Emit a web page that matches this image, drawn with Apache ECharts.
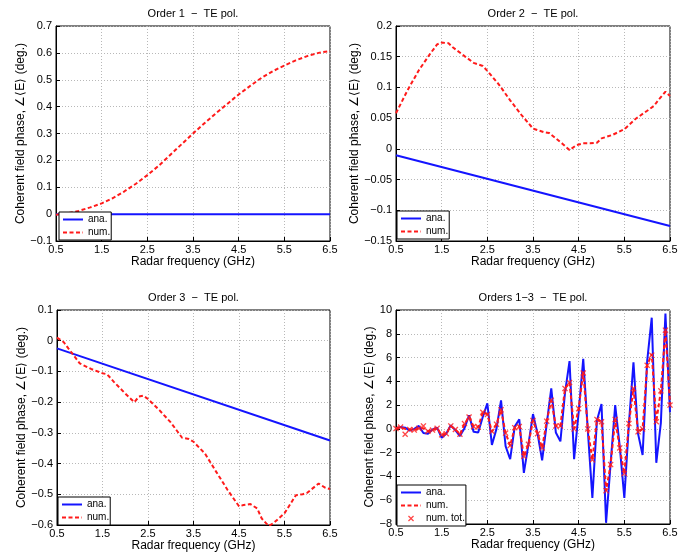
<!DOCTYPE html>
<html><head><meta charset="utf-8">
<script src="https://cdn.jsdelivr.net/npm/echarts@6/dist/echarts.min.js"></script>
<style>html,body{margin:0;padding:0;background:#fff}#c{width:699px;height:555px}</style>
</head><body><div id="c"></div>
<script>
const FONT = '"Liberation Sans", Arial, Helvetica, sans-serif';

// ---------- data ----------
const xTicks = [0.5, 1.5, 2.5, 3.5, 4.5, 5.5, 6.5];
const titles = ['Order 1  \u2212  TE pol.', 'Order 2  \u2212  TE pol.', 'Order 3  \u2212  TE pol.', 'Orders 1\u22123  \u2212  TE pol.'];
const seriesNames = ['ana.', 'num.', 'num. tot.'];

// Order 1
const p1AnaFreq = [0.5, 6.5];
const p1Ana = [0, 0];
const p1NumFreq = [0.5,0.75,1.0,1.25,1.5,1.75,2.0,2.25,2.5,2.75,3.0,3.25,3.5,3.75,4.0,4.25,4.5,4.75,5.0,5.25,5.5,5.75,6.0,6.25,6.5];
const p1Num = [-0.002,0.003,0.012,0.025,0.04,0.06,0.085,0.113,0.145,0.18,0.22,0.26,0.30,0.338,0.375,0.41,0.445,0.477,0.507,0.532,0.553,0.572,0.588,0.6,0.607];

// Order 2
const p2AnaFreq = [0.5, 6.5];
const p2Ana = [-0.0103, -0.1255];
const p2NumFreq = [0.5,0.75,1.0,1.25,1.4,1.5,1.65,1.75,2.0,2.2,2.4,2.5,2.75,3.0,3.25,3.5,3.75,3.85,4.0,4.15,4.3,4.45,4.6,4.75,4.9,5.0,5.25,5.5,5.75,6.0,6.15,6.25,6.4,6.5];
const p2Num = [0.058,0.095,0.128,0.155,0.17,0.173,0.172,0.165,0.151,0.14,0.135,0.127,0.105,0.079,0.055,0.033,0.027,0.026,0.017,0.008,-0.002,0.006,0.009,0.009,0.01,0.017,0.023,0.032,0.049,0.062,0.07,0.08,0.093,0.086];

// Order 3
const p3AnaFreq = [0.5, 6.5];
const p3Ana = [-0.025, -0.325];
const p3NumFreq = [0.5,0.65,0.75,1.0,1.25,1.5,1.6,1.75,2.0,2.2,2.3,2.4,2.5,2.75,3.0,3.25,3.4,3.5,3.75,4.0,4.25,4.5,4.6,4.75,4.9,5.0,5.15,5.25,5.5,5.75,5.9,6.0,6.25,6.4,6.5];
const p3Num = [0.01,-0.005,-0.025,-0.074,-0.092,-0.106,-0.109,-0.134,-0.172,-0.2,-0.182,-0.179,-0.19,-0.226,-0.266,-0.316,-0.32,-0.329,-0.367,-0.427,-0.486,-0.539,-0.535,-0.532,-0.546,-0.579,-0.603,-0.595,-0.562,-0.503,-0.5,-0.495,-0.465,-0.479,-0.483];

// Orders 1-3
const p4Freq = [0.5,0.6,0.7,0.8,0.9,1.0,1.1,1.2,1.3,1.4,1.5,1.6,1.7,1.8,1.9,2.0,2.1,2.2,2.3,2.4,2.5,2.6,2.7,2.8,2.9,3.0,3.1,3.2,3.3,3.4,3.5,3.6,3.7,3.8,3.9,4.0,4.1,4.2,4.3,4.4,4.5,4.6,4.7,4.8,4.9,5.0,5.1,5.2,5.3,5.4,5.5,5.6,5.7,5.8,5.9,6.0,6.1,6.2,6.3,6.4,6.5];
const p4Ana = [0.05,0.15,0.1,-0.15,0.0,0.25,-0.35,-0.4,-0.05,0.1,-0.75,-0.4,0.3,-0.1,-0.6,0.05,1.15,-0.25,-0.3,1.0,2.15,-1.35,0.0,2.4,-1.45,-2.55,0.2,0.8,-3.7,-1.3,1.25,-0.4,-2.65,0.4,3.4,-0.3,-1.05,3.0,5.7,-2.55,1.4,5.9,-0.1,-5.8,0.7,2.1,-7.9,-2.9,2.0,-1.5,-5.8,0.4,5.6,-0.4,-2.2,5.7,9.35,-2.85,0.5,9.7,1.4];
const p4Num = [0.03,0.15,0.0,-0.05,-0.1,0.05,0.05,-0.2,-0.1,0.05,-0.5,-0.4,0.25,-0.05,-0.45,0.45,1.0,0.2,0.15,1.4,1.25,-0.25,0.4,1.6,-0.35,-1.4,0.1,0.2,-2.3,-1.3,0.7,-0.4,-1.6,0.65,2.4,0.25,0.25,3.4,3.9,0.0,1.7,4.8,0.0,-2.6,0.8,0.6,-5.2,-3.0,0.8,-1.65,-3.75,0.45,3.4,-0.25,0.0,5.35,6.3,0.6,3.2,8.3,2.1];
const p4NumTot = [0.03,0.15,-0.45,-0.05,-0.1,0.05,0.25,-0.2,-0.1,0.05,-0.5,-0.4,0.25,-0.05,-0.45,0.45,1.0,0.2,0.15,1.4,1.2,-0.2,0.4,1.6,-0.35,-1.4,0.1,0.2,-2.3,-1.3,0.7,-0.4,-1.6,0.65,2.4,0.25,0.25,3.4,3.9,0.0,1.7,4.7,0.0,-2.6,0.8,0.6,-5.2,-3.0,0.8,-1.6,-3.75,0.45,3.4,-0.25,0.0,5.35,6.2,0.6,3.2,8.3,2.0];

// y-axis ranges: [min, max, interval]
const yRanges = [[-0.1, 0.7, 0.1], [-0.15, 0.2, 0.05], [-0.6, 0.1, 0.1], [-8, 10, 2]];

// ---------- layout ----------
const grids = [
  {left: 56, top: 26, width: 274, height: 215},
  {left: 396, top: 26, width: 274, height: 215},
  {left: 57, top: 310, width: 273, height: 215},
  {left: 396, top: 310, width: 274, height: 214}
];
const yNameGaps = [25, 31, 25, 17];
const legendPos = [[59, 212], [397, 211], [58, 497], [397, 485]];

const BLUE = '#1414ff';
const RED = '#ff1a1a';

function pairs(xs, ys) { return xs.map((x, i) => [x, ys[i]]); }
function fmt(v) {
  const r = parseFloat(Number(v).toFixed(4));
  if (r === 0) return '0';
  return r < 0 ? '\u2212' + String(-r) : String(r);
}

const gridOpts = grids.map(g => Object.assign({show: true, borderColor: '#000', borderWidth: 1, backgroundColor: '#fff'}, g));

const xAxes = grids.map((g, i) => ({
  type: 'value', gridIndex: i, min: 0.5, max: 6.5, interval: 1,
  name: 'Radar frequency (GHz)', nameLocation: 'middle', nameGap: 13,
  nameTextStyle: {fontFamily: FONT, fontSize: 12, color: '#000'},
  axisLine: {show: true, onZero: false, lineStyle: {color: '#000', width: 1}},
  axisTick: {show: true, inside: true, length: 4, lineStyle: {color: '#000'}},
  axisLabel: {fontFamily: FONT, fontSize: 11, color: '#000', margin: 3, showMinLabel: true, showMaxLabel: true,
    formatter: v => Number(v).toFixed(1)},
  splitLine: {show: true, lineStyle: {color: '#b8b8b8', type: [1, 2], width: 1}}
}));

const yAxes = grids.map((g, i) => ({
  type: 'value', gridIndex: i, min: yRanges[i][0], max: yRanges[i][1], interval: yRanges[i][2],
  name: 'Coherent field phase, \u2220\u27e8E\u27e9 (deg.)', nameLocation: 'middle', nameGap: yNameGaps[i],
  nameTextStyle: {fontFamily: FONT, fontSize: 12, color: '#000'},
  axisLine: {show: true, onZero: false, lineStyle: {color: '#000', width: 1}},
  axisTick: {show: true, inside: true, length: 4, lineStyle: {color: '#000'}},
  axisLabel: {fontFamily: FONT, fontSize: 11, color: '#000', margin: 4, showMinLabel: true, showMaxLabel: true, formatter: fmt},
  splitLine: {show: true, lineStyle: {color: '#b8b8b8', type: [1, 2], width: 1}}
}));

const CLEAR = 'rgba(0,0,0,0)';
function anaSeries(i, xs, ys) {
  return {name: seriesNames[0], type: 'line', xAxisIndex: i, yAxisIndex: i, data: pairs(xs, ys),
    symbol: 'none', lineStyle: {color: BLUE, width: 2}, itemStyle: {color: CLEAR, borderWidth: 0}, z: 2, animation: false};
}
function numSeries(i, xs, ys) {
  return {name: seriesNames[1], type: 'line', xAxisIndex: i, yAxisIndex: i, data: pairs(xs, ys),
    symbol: 'none', lineStyle: {color: RED, width: 2, type: [4, 2.5]}, itemStyle: {color: CLEAR, borderWidth: 0}, z: 3, animation: false};
}
const XPATH = 'path://M0,1.5L1.5,0L5,3.5L8.5,0L10,1.5L6.5,5L10,8.5L8.5,10L5,6.5L1.5,10L0,8.5L3.5,5Z';

const series = [
  anaSeries(0, p1AnaFreq, p1Ana), numSeries(0, p1NumFreq, p1Num),
  anaSeries(1, p2AnaFreq, p2Ana), numSeries(1, p2NumFreq, p2Num),
  anaSeries(2, p3AnaFreq, p3Ana), numSeries(2, p3NumFreq, p3Num),
  anaSeries(3, p4Freq, p4Ana), numSeries(3, p4Freq, p4Num),
  {name: seriesNames[2], type: 'scatter', xAxisIndex: 3, yAxisIndex: 3, data: pairs(p4Freq, p4NumTot),
    symbol: XPATH, symbolSize: 6, itemStyle: {color: RED}, z: 4, animation: false}
];

const legends = legendPos.map((p, i) => ({
  orient: 'vertical', left: p[0], top: p[1],
  data: i === 3 ? seriesNames.slice() : seriesNames.slice(0, 2),
  backgroundColor: '#fff', borderColor: '#000', borderWidth: 1, borderRadius: 0,
  padding: [1, 1, 1, 3], itemGap: 0, itemWidth: 20, itemHeight: 6, selectedMode: false,
  textStyle: {fontFamily: FONT, fontSize: 10, color: '#000', lineHeight: 13}
}));

const titleCenters = grids.map(g => [g.left + g.width / 2, g.top - 12]);
const graphic = titles.map((t, i) => ({
  type: 'text', x: titleCenters[i][0], y: titleCenters[i][1], silent: true,
  style: {text: t, fill: '#000', font: '11px ' + FONT, align: 'center', verticalAlign: 'middle'}
}));

const chart = echarts.init(document.getElementById('c'), null, {renderer: 'canvas'});
chart.setOption({
  animation: false,
  backgroundColor: '#fff',
  grid: gridOpts,
  xAxis: xAxes,
  yAxis: yAxes,
  legend: legends,
  graphic: graphic,
  series: series
});
</script>
</body></html>
